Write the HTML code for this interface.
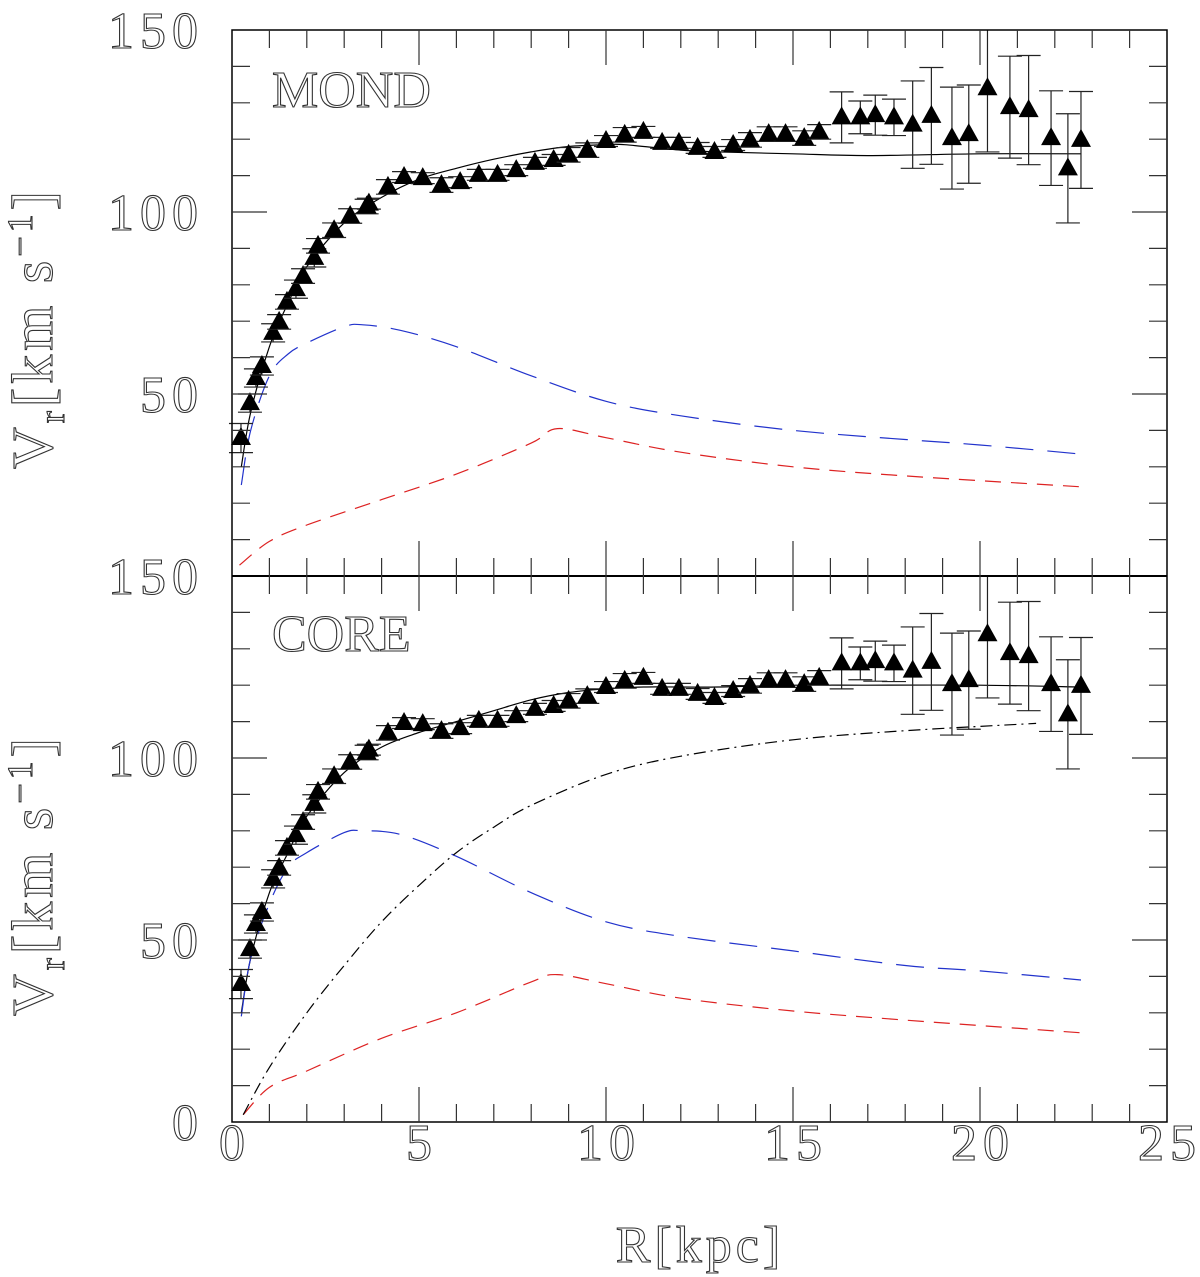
<!DOCTYPE html>
<html><head><meta charset="utf-8"><style>
html,body{margin:0;padding:0;background:#fff}
svg{display:block}
.lbl{font-family:"Liberation Serif",serif;fill:#fff;stroke:#333;stroke-width:1.1}
</style></head><body>
<svg id="chart" width="1200" height="1277" viewBox="0 0 1200 1277" xmlns="http://www.w3.org/2000/svg">
<g id="topPanel"></g>
<g id="botPanel"></g>
<g id="axes"></g>
</svg>
<script>
const obsR=[0.24,0.48,0.64,0.8,1.1,1.26,1.47,1.71,1.9,2.2,2.3,2.73,3.16,3.6,3.66,4.17,4.6,5.1,5.6,6.1,6.6,7.1,7.6,8.1,8.6,9.0,9.5,10.0,10.5,11.0,11.5,11.95,12.45,12.9,13.4,13.85,14.35,14.8,15.3,15.7,16.3,16.8,17.2,17.7,18.2,18.7,19.25,19.7,20.2,20.8,21.3,21.9,22.35,22.7];
const obsV=[37.9,47.5,54.4,57.7,66.8,69.8,75.3,78.8,82.4,87.4,90.7,95,98.9,101.5,102.3,106.9,109.6,109.3,107.4,108.2,110.2,110.2,111.5,113.5,114.3,115.7,117,119.5,121.2,122,119,119,117.6,116.5,118.4,119.8,121.4,121.4,120.3,122,126,126,126.6,126,124,126.4,120.3,121.4,134,128.8,128,120.3,112,119.8];
const obsErr=[4,2.5,2.5,2.5,2.5,2,2,2.5,2,2.5,2,2,2,2,1.5,2,1.5,1.5,2,1.5,1.5,1.5,1.5,1.5,1.5,2,2,1.5,2,1.5,1.5,1.5,1.5,1.5,1.5,2,2,2,2,2,7,4.5,5.5,5,12,13.3,14,13.5,17.5,14,15,13,15,13.3];
const mondTotR=[0.25,0.5,1,1.5,2,3,4,5,6,7,8,9,10,10.5,12,13,15,17,20,22.7];
const mondTotV=[30,45,63,75,85,97,104,109,112,114.5,116.5,118,118.5,118.5,117,116.5,116,115.5,116,116];
const mondDiskR=[0.25,0.5,1,1.5,2,3,3.5,4.5,6,8,10,12,15,18,20,22.7];
const mondDiskV=[25,40,55,61,64,68.5,69,67.5,63,55,48,44,40,37.5,36,33.5];
const mondGasR=[0.2,1,2,4,6,8,8.7,10,12,15,18,22.7];
const mondGasV=[3,9.5,14,21,28,36.5,40.5,38,34,30,27.5,24.5];
const coreTotR=[0.25,0.5,1,1.5,2,3,4,5,6,7,8,9,10,11,12,13,15,17,20,22.7];
const coreTotV=[30,45,63,74,84,96,103,107,110,113,116,118,119,119.5,119.5,119.5,120,120,120,119.5];
const coreDiskR=[0.25,0.5,1,1.5,2,3,3.5,4.5,6,8,10,12,15,18,20,22.7];
const coreDiskV=[29,45,60,70,74,79.5,80,79,73,63,55,51,47,43,41.5,39];
const coreGasR=[0.3,1,2,4,6,8,8.7,10,12,15,18,22.7];
const coreGasV=[2,9.5,14,23,30,38.5,40.5,38,34,30.5,28,24.5];
const haloR=[0.3,1,2,3,4,5,6,7,8,10,12,15,18,21.5];
const haloV=[2,15,30,43,55,65,74,81,87,95.5,100.5,105,107.5,109.5];
const xTicks=[0,5,10,15,20,25];
const yTicksTop=[50,100,150];
const yTicksBot=[0,50,100,150];

const NS="http://www.w3.org/2000/svg";
const X0=232,X1=1167;
const xs=r=>X0+(r/25)*(X1-X0);
const ysTop=v=>576-v*(546/150);
const ysBot=v=>1122-v*(546/150);
function mk(tag,attrs,parent){const e=document.createElementNS(NS,tag);for(const k in attrs)e.setAttribute(k,attrs[k]);parent.appendChild(e);return e;}
function smooth(P){
  let d=`M${P[0][0].toFixed(1)} ${P[0][1].toFixed(1)}`;
  for(let i=0;i<P.length-1;i++){
    const p0=P[Math.max(i-1,0)],p1=P[i],p2=P[i+1],p3=P[Math.min(i+2,P.length-1)];
    const c1=[p1[0]+(p2[0]-p0[0])/6,p1[1]+(p2[1]-p0[1])/6];
    const c2=[p2[0]-(p3[0]-p1[0])/6,p2[1]-(p3[1]-p1[1])/6];
    d+=`C${c1[0].toFixed(1)} ${c1[1].toFixed(1)} ${c2[0].toFixed(1)} ${c2[1].toFixed(1)} ${p2[0].toFixed(1)} ${p2[1].toFixed(1)}`;
  }
  return d;
}
function line(R,V,ys,color,dash,parent,name){
  const d=smooth(R.map((r,i)=>[xs(r),ys(V[i])]));
  const p=mk('path',{d:d,fill:'none',stroke:color,'stroke-width':1.2},parent);
  if(dash)p.setAttribute('stroke-dasharray',dash);
  
  
}
function points(ys,parent,prefix){
  obsR.forEach((r,i)=>{
    const x=xs(r),y=ys(obsV[i]),y1=ys(obsV[i]+obsErr[i]),y2=ys(obsV[i]-obsErr[i]);
    const g=mk('g',{},parent);
    
    
    mk('path',{d:`M${x} ${Math.max(y1,ys(150))}V${y2}M${x-12} ${y2}H${x+12}`+(y1>=ys(150)?`M${x-12} ${y1}H${x+12}`:''),stroke:'#222','stroke-width':1.2,fill:'none'},g);
    mk('path',{d:`M${x} ${y-11}L${x+10} ${y+7}L${x-10} ${y+7}Z`,fill:'#000'},g);
  });
}
const topG=document.getElementById('topPanel'),botG=document.getElementById('botPanel'),ax=document.getElementById('axes');
line(mondTotR,mondTotV,ysTop,'#000',null,topG,'mond-total-curve');
line(mondDiskR,mondDiskV,ysTop,'#2233cc','28 14',topG,'mond-disk-curve');
line(mondGasR,mondGasV,ysTop,'#dd2222','16 10',topG,'mond-gas-curve');
points(ysTop,topG,'mond');
line(coreTotR,coreTotV,ysBot,'#000',null,botG,'core-total-curve');
line(coreDiskR,coreDiskV,ysBot,'#2233cc','28 14',botG,'core-disk-curve');
line(coreGasR,coreGasV,ysBot,'#dd2222','16 10',botG,'core-gas-curve');
line(haloR,haloV,ysBot,'#000','12 5 2 5',botG,'core-halo-curve');
points(ysBot,botG,'core');

mk('rect',{x:X0,y:30,width:X1-X0,height:1092,fill:'none',stroke:'#000','stroke-width':1.5},ax);
mk('line',{x1:X0,y1:576,x2:X1,y2:576,stroke:'#000','stroke-width':2},ax);
let tp='';
[[30,1],[576,-1],[576,1],[1122,-1]].forEach(([y,s])=>{
  for(let r=1;r<25;r++){const L=(r%5==0)?35:18;tp+=`M${xs(r)} ${y}V${y+s*L}`;}
});
[ysTop,ysBot].forEach(ys=>{
  for(let v=10;v<150;v+=10){const L=(v%50==0)?35:18;const y=ys(v);tp+=`M${X0} ${y}H${X0+L}M${X1} ${y}H${X1-L}`;}
});
mk('path',{d:tp,stroke:'#333','stroke-width':1.2,fill:'none'},ax);
function txt(s,x,y,anchor,size,name,ls){
  const t=mk('text',{x:x,y:y,'text-anchor':anchor,'font-size':size,class:'lbl'},ax);
  if(ls)t.setAttribute('letter-spacing',ls);
  t.textContent=s;
  
  
  return t;
}
xTicks.forEach(v=>txt(String(v),xs(v)+3,1160,'middle',52,'x-tick-label',6));
yTicksTop.forEach(v=>txt(String(v),204,ysTop(v)+18,'end',52,'y-tick-label',6));
yTicksBot.forEach(v=>{if(v<150)txt(String(v),204,ysBot(v)+18,'end',52,'y-tick-label',6);});
txt('150',204,594,'end',52,'y-tick-label',6);
txt('MOND',272,107,'start',52,'mond-panel-label');
txt('CORE',272,651,'start',52,'core-panel-label');
txt('R[kpc]',700,1262,'middle',52,'x-axis-title',4);
function ylab(cy,name){
  const t=mk('text',{x:0,y:0,'font-size':58,class:'lbl','text-anchor':'middle','letter-spacing':4,transform:`translate(52 ${cy}) rotate(-90)`},ax);
  
  
  t.innerHTML='V<tspan font-size="36" dy="12">r</tspan><tspan dy="-12">[km s</tspan><tspan font-size="36" dy="-20">−1</tspan><tspan dy="20">]</tspan>';
}
ylab(328,'y-axis-title-top');
ylab(875,'y-axis-title-bottom');
</script>
</body></html>
